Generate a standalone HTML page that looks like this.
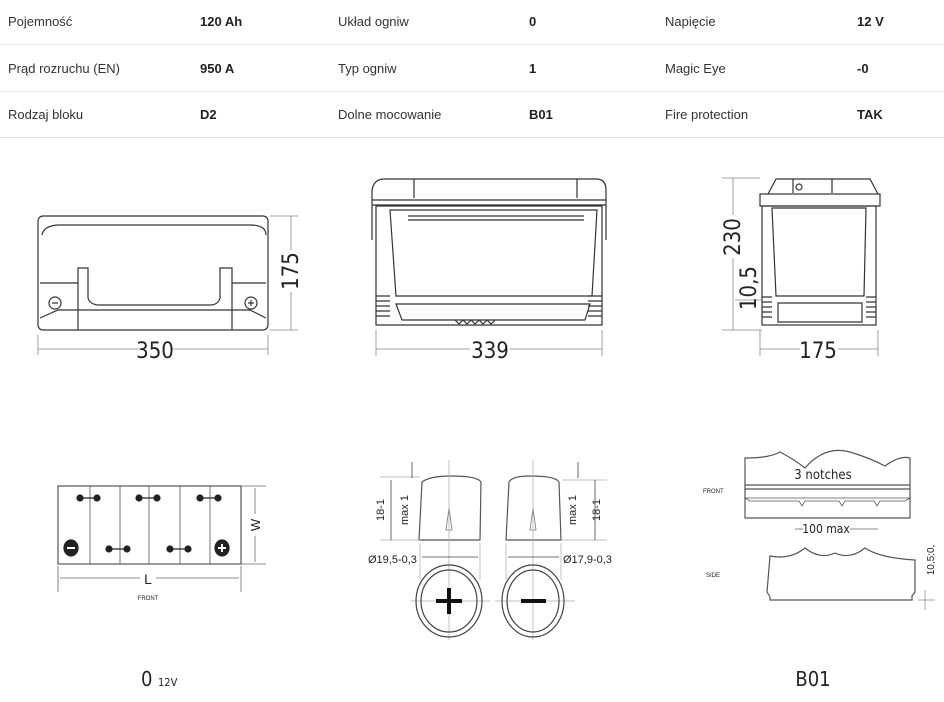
<!DOCTYPE html>
<html><head><meta charset="utf-8"><style>
body{margin:0;width:944px;height:702px;background:#fff;overflow:hidden;position:relative;font-family:"Liberation Sans",sans-serif}
.t{position:absolute;font-size:13px;color:#333}
.b{font-weight:bold;color:#222}
.hl{position:absolute;left:0;width:944px;height:1px;background:#e3e6ea}
svg{position:absolute;left:0;top:0}
</style></head><body>
<div class="t" style="left:8px;top:14px">Pojemność</div><div class="t b" style="left:200px;top:14px">120 Ah</div>
<div class="t" style="left:338px;top:14px">Układ ogniw</div><div class="t b" style="left:529px;top:14px">0</div>
<div class="t" style="left:665px;top:14px">Napięcie</div><div class="t b" style="left:857px;top:14px">12 V</div>
<div class="hl" style="top:44px"></div>
<div class="t" style="left:8px;top:61px">Prąd rozruchu (EN)</div><div class="t b" style="left:200px;top:61px">950 A</div>
<div class="t" style="left:338px;top:61px">Typ ogniw</div><div class="t b" style="left:529px;top:61px">1</div>
<div class="t" style="left:665px;top:61px">Magic Eye</div><div class="t b" style="left:857px;top:61px">-0</div>
<div class="hl" style="top:91px"></div>
<div class="t" style="left:8px;top:107px">Rodzaj bloku</div><div class="t b" style="left:200px;top:107px">D2</div>
<div class="t" style="left:338px;top:107px">Dolne mocowanie</div><div class="t b" style="left:529px;top:107px">B01</div>
<div class="t" style="left:665px;top:107px">Fire protection</div><div class="t b" style="left:857px;top:107px">TAK</div>
<div class="hl" style="top:137px"></div>
<svg width="944" height="702" viewBox="0 0 944 702" fill="none" stroke="#333" stroke-width="1.2" font-family="Liberation Sans, sans-serif">
<!-- top-left -->
<rect x="38" y="216" width="230" height="114" rx="5"/>
<path d="M42 235 Q44 225 60 225 L250 225 Q266 225 266 235"/>
<path d="M40 318 L58 310 L250 310 L266 318"/>
<path d="M78 330 V268 H88 V298 Q90 305 100 305 H210 Q218 305 220 298 V268 H232 V330"/>
<line x1="40" y1="283" x2="78" y2="283"/><line x1="232" y1="283" x2="266" y2="283"/>
<circle cx="55" cy="303" r="6"/><circle cx="251" cy="303" r="6"/>
<path d="M52 303h6M248 303h6M251 300v6"/>
<g stroke="#888" stroke-width="0.8"><line x1="38" y1="335" x2="38" y2="355"/><line x1="268" y1="335" x2="268" y2="355"/><line x1="38" y1="349" x2="140" y2="349"/><line x1="172" y1="349" x2="268" y2="349"/>
<line x1="270" y1="216" x2="298" y2="216"/><line x1="270" y1="330" x2="298" y2="330"/><line x1="291" y1="216" x2="291" y2="250"/><line x1="291" y1="292" x2="291" y2="330"/></g>
<text x="155" y="358" font-size="22" fill="#222" stroke="none" text-anchor="middle" font-family="DejaVu Sans Condensed, sans-serif">350</text>
<text transform="translate(298,271) rotate(-90)" font-size="22" fill="#222" stroke="none" text-anchor="middle" font-family="DejaVu Sans Condensed, sans-serif">175</text>
<!-- top-middle -->
<path d="M372 240 V190 Q374 179 384 179 H596 Q606 179 606 190 V240"/>
<line x1="372" y1="200" x2="606" y2="200"/><line x1="372" y1="205" x2="606" y2="205"/>
<path d="M414 179v19M577 179v19"/>
<path d="M376 206 H602 V325 H376 Z"/>
<path d="M390 210 H597 L592 296 H396 Z"/>
<line x1="408" y1="216" x2="584" y2="216"/><line x1="408" y1="220" x2="584" y2="220"/>
<path d="M396 304 H590 L585 320 H402 Z"/>
<path d="M376 296h14M376 301h14M376 306h14M376 311h14M376 316h14M588 296h14M588 301h14M588 306h14M588 311h14M588 316h14"/>
<path d="M455 320l4 4 4-4 4 4 4-4 4 4 4-4 4 4 4-4 4 4 4-4"/>
<g stroke="#888" stroke-width="0.8"><line x1="376" y1="330" x2="376" y2="356"/><line x1="602" y1="330" x2="602" y2="356"/><line x1="376" y1="349" x2="470" y2="349"/><line x1="510" y1="349" x2="602" y2="349"/></g>
<text x="490" y="358" font-size="22" fill="#222" stroke="none" text-anchor="middle" font-family="DejaVu Sans Condensed, sans-serif">339</text>
<!-- top-right -->
<path d="M768 194 L776 179 H870 L878 194"/>
<rect x="760" y="194" width="120" height="12"/>
<path d="M793 179v14M832 179v14"/><circle cx="799" cy="187" r="3"/>
<rect x="762" y="206" width="114" height="119"/>
<path d="M772 208 H866 L864 296 H776 Z"/>
<path d="M778 303 H862 V322 H778 Z"/>
<path d="M762 297h10M762 302h10M762 307h10M762 312h10M762 317h10M866 297h10M866 302h10M866 307h10M866 312h10M866 317h10"/>
<g stroke="#888" stroke-width="0.8"><line x1="722" y1="178" x2="760" y2="178"/><line x1="722" y1="330" x2="762" y2="330"/><line x1="733" y1="178" x2="733" y2="215"/><line x1="733" y1="258" x2="733" y2="330"/><line x1="735" y1="300" x2="762" y2="300"/>
<line x1="760" y1="330" x2="760" y2="356"/><line x1="878" y1="330" x2="878" y2="356"/><line x1="760" y1="349" x2="800" y2="349"/><line x1="838" y1="349" x2="878" y2="349"/></g>
<text transform="translate(740,237) rotate(-90)" font-size="22" fill="#222" stroke="none" text-anchor="middle" font-family="DejaVu Sans Condensed, sans-serif">230</text>
<text transform="translate(756,288) rotate(-90)" font-size="22" fill="#222" stroke="none" text-anchor="middle" font-family="DejaVu Sans Condensed, sans-serif">10,5</text>
<text x="818" y="358" font-size="22" fill="#222" stroke="none" text-anchor="middle" font-family="DejaVu Sans Condensed, sans-serif">175</text>
<!-- bottom-left -->
<rect x="58" y="486" width="183" height="78" stroke="#555"/>
<path d="M90 486v78M120 486v78M149 486v78M180 486v78M210 486v78" stroke="#555" stroke-width="0.8"/>
<g fill="#222" stroke="#222"><circle cx="80" cy="498" r="3"/><circle cx="97" cy="498" r="3"/><line x1="80" y1="498" x2="97" y2="498"/>
<circle cx="139" cy="498" r="3"/><circle cx="157" cy="498" r="3"/><line x1="139" y1="498" x2="157" y2="498"/>
<circle cx="200" cy="498" r="3"/><circle cx="218" cy="498" r="3"/><line x1="200" y1="498" x2="218" y2="498"/>
<circle cx="109" cy="549" r="3"/><circle cx="127" cy="549" r="3"/><line x1="109" y1="549" x2="127" y2="549"/>
<circle cx="170" cy="549" r="3"/><circle cx="188" cy="549" r="3"/><line x1="170" y1="549" x2="188" y2="549"/>
<ellipse cx="71" cy="548" rx="7" ry="8"/><ellipse cx="222" cy="548" rx="7" ry="8"/></g>
<path d="M67 548h8M218 548h8M222 544v8" stroke="#fff" stroke-width="2"/>
<g stroke="#666" stroke-width="0.8"><line x1="241" y1="486" x2="266" y2="486"/><line x1="241" y1="564" x2="266" y2="564"/><line x1="255" y1="488" x2="255" y2="514"/><line x1="255" y1="536" x2="255" y2="562"/>
<line x1="58" y1="566" x2="58" y2="592"/><line x1="241" y1="566" x2="241" y2="592"/><line x1="60" y1="578" x2="140" y2="578"/><line x1="156" y1="578" x2="239" y2="578"/></g>
<text transform="translate(260,525) rotate(-90)" font-size="13" fill="#222" stroke="none" text-anchor="middle">W</text>
<text x="148" y="584" font-size="14" fill="#222" stroke="none" text-anchor="middle">L</text>
<text x="148" y="600" font-size="6" fill="#222" stroke="none" text-anchor="middle">FRONT</text>
<text x="141" y="686" font-size="20" fill="#222" stroke="none" font-family="DejaVu Sans Condensed, sans-serif">0</text>
<text x="158" y="686" font-size="11" fill="#222" stroke="none" font-family="DejaVu Sans Condensed, sans-serif">12V</text>
<!-- bottom-middle -->
<path d="M419 540 L422 482 Q430 476 450 476 Q478 476 481 482 L480 540 Z" stroke="#555"/>
<path d="M506 540 L509 482 Q512 476 530 476 Q556 476 559 482 L561 540 Z" stroke="#555"/>
<path d="M449 508 l-3 22 h6 z M533 508 l-3 22 h6 z" stroke="#777" stroke-width="0.8"/>
<g stroke="#aaa" stroke-width="0.7"><line x1="449" y1="460" x2="449" y2="640"/><line x1="533" y1="460" x2="533" y2="640"/><line x1="380" y1="477" x2="420" y2="477"/><line x1="380" y1="540" x2="420" y2="540"/><line x1="562" y1="480" x2="607" y2="480"/><line x1="562" y1="540" x2="607" y2="540"/><line x1="420" y1="543" x2="420" y2="580"/><line x1="480" y1="543" x2="480" y2="580"/><line x1="506" y1="543" x2="506" y2="580"/><line x1="561" y1="543" x2="561" y2="580"/><line x1="410" y1="601" x2="490" y2="601"/><line x1="495" y1="601" x2="575" y2="601"/></g>
<g stroke="#444" stroke-width="0.8"><line x1="391" y1="480" x2="391" y2="540"/><line x1="412" y1="462" x2="412" y2="478"/><line x1="595" y1="480" x2="595" y2="540"/><line x1="578" y1="462" x2="578" y2="478"/><line x1="422" y1="557" x2="478" y2="557"/><line x1="508" y1="557" x2="559" y2="557"/></g>
<ellipse cx="449" cy="601" rx="33" ry="36" stroke="#444"/><ellipse cx="449" cy="601" rx="28" ry="31" stroke="#444"/>
<ellipse cx="533" cy="601" rx="31" ry="36" stroke="#444"/><ellipse cx="533" cy="601" rx="26" ry="31" stroke="#444"/>
<path d="M436 601h26M449 588v26M521 601h25" stroke="#111" stroke-width="4"/>
<text transform="translate(384,510) rotate(-90)" font-size="11" fill="#222" stroke="none" text-anchor="middle">18-1</text>
<text transform="translate(408,510) rotate(-90)" font-size="11" fill="#222" stroke="none" text-anchor="middle">max 1</text>
<text transform="translate(576,510) rotate(-90)" font-size="11" fill="#222" stroke="none" text-anchor="middle">max 1</text>
<text transform="translate(600,510) rotate(-90)" font-size="11" fill="#222" stroke="none" text-anchor="middle">18-1</text>
<text x="368" y="563" font-size="11" fill="#222" stroke="none">Ø19,5-0,3</text>
<text x="563" y="563" font-size="11" fill="#222" stroke="none">Ø17,9-0,3</text>
<!-- bottom-right -->
<path d="M745 458 Q770 458 780 452 Q795 460 805 468 Q825 445 850 452 Q870 458 885 466 Q900 455 910 458 V518 H745 Z" stroke="#555"/>
<line x1="745" y1="485" x2="910" y2="485" stroke="#555"/><line x1="745" y1="489" x2="910" y2="489" stroke="#555"/>
<path d="M745 498 H910 L905 501 H880 l-3 5 -3 -5 H845 l-3 5 -3 -5 H805 l-3 5 -3 -5 H750 Z" stroke="#555" stroke-width="0.8"/>
<text x="823" y="479" font-size="13" fill="#222" stroke="none" text-anchor="middle" font-family="DejaVu Sans Condensed, sans-serif">3 notches</text>
<text x="703" y="493" font-size="6" fill="#222" stroke="none">FRONT</text>
<g stroke="#666" stroke-width="0.8"><line x1="795" y1="529" x2="803" y2="529"/><line x1="850" y1="529" x2="878" y2="529"/></g>
<text x="826" y="533" font-size="12" fill="#222" stroke="none" text-anchor="middle" font-family="DejaVu Sans Condensed, sans-serif">100 max</text>
<path d="M770 556 Q790 560 805 548 Q820 560 835 553 Q850 560 865 548 Q880 558 915 560 V592 L912 596 V600 H770 V597 L767 592 Z" stroke="#555"/>
<text x="706" y="577" font-size="6" fill="#222" stroke="none">SIDE</text>
<g stroke="#888" stroke-width="0.7"><line x1="925" y1="590" x2="925" y2="610"/><line x1="918" y1="600" x2="935" y2="600"/></g>
<text transform="translate(934,560) rotate(-90)" font-size="10" fill="#222" stroke="none" text-anchor="middle">10,5:0,</text>
<text x="813" y="686" font-size="20" fill="#222" stroke="none" text-anchor="middle" font-family="DejaVu Sans Condensed, sans-serif">B01</text>
</svg>
</body></html>
